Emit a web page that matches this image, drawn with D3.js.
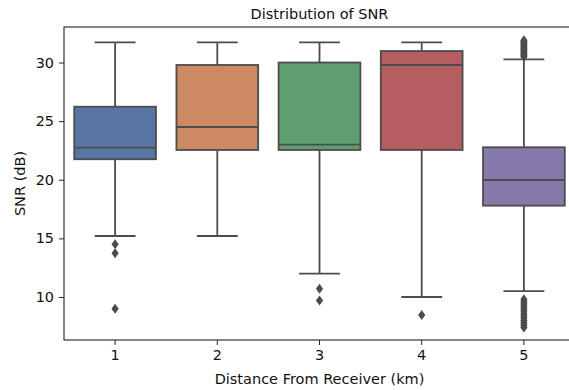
<!DOCTYPE html>
<html>
<head>
<meta charset="utf-8">
<script src="https://cdn.jsdelivr.net/npm/d3@7"></script>
<style>
  body { margin: 0; background: #fff; }
  svg { font-family: "DejaVu Sans", sans-serif; display: block; }
</style>
</head>
<body>
<div id="chart"></div>
<script>
// distances (km)
const categories = ['1', '2', '3', '4', '5'];
// box stats
const whiskLow  = [15.2, 15.2, 12.0, 10.0, 10.5];
const q1        = [21.75, 22.54, 22.54, 22.54, 17.79];
const medians   = [22.74, 24.5, 22.99, 29.79, 19.98];
const q3        = [26.23, 29.79, 30.0, 30.98, 22.77];
const whiskHigh = [31.72, 31.72, 31.72, 31.72, 30.27];
const outliers  = [
  [14.5, 13.73, 8.99],
  [],
  [10.7, 9.7],
  [8.47],
  [30.5, 30.6, 30.7, 30.8, 30.9, 31.0, 31.1, 31.2, 31.3, 31.4, 31.5, 31.6, 31.7, 31.8, 31.9,
   9.8, 9.6, 9.4, 9.2, 9.0, 8.8, 8.6, 8.4, 8.2, 8.0, 7.8, 7.6, 7.4]
];
const yTicks = [10, 15, 20, 25, 30];
const colors = ['#5975a4', '#cc8963', '#5f9e6e', '#b55d60', '#857aab'];

const width = 569, height = 390;
const margin = {top: 27, left: 64, bottom: 50};
const plotW = 511, plotH = height - margin.top - margin.bottom;
const lineColor = '#4c4c4c';

const svg = d3.select('#chart').append('svg')
  .attr('width', width)
  .attr('height', height);

const g = svg.append('g')
  .attr('transform', `translate(${margin.left},${margin.top})`);

let x = d3.scaleBand()
  .domain(categories)
  .range([0, plotW])
  .paddingInner(0)
  .paddingOuter(0);

let y = d3.scaleLinear()
  .domain([6.33, 33.03])
  .range([plotH, 0]);

const bw = x.bandwidth() * 0.8;

// boxes
const boxes = g.selectAll('g.box')
  .data(categories)
  .enter()
  .append('g')
  .attr('class', 'box')
  .attr('transform', d => `translate(${x(d) + x.bandwidth() / 2},0)`);

// whiskers
boxes.append('line')
  .attr('y1', (d, i) => y(whiskLow[i])).attr('y2', (d, i) => y(q1[i]))
  .attr('stroke', lineColor).attr('stroke-width', 1.8);
boxes.append('line')
  .attr('y1', (d, i) => y(q3[i])).attr('y2', (d, i) => y(whiskHigh[i]))
  .attr('stroke', lineColor).attr('stroke-width', 1.8);
// caps
[whiskLow, whiskHigh].forEach(arr => {
  boxes.append('line')
    .attr('x1', -bw / 4).attr('x2', bw / 4)
    .attr('y1', (d, i) => y(arr[i])).attr('y2', (d, i) => y(arr[i]))
    .attr('stroke', lineColor).attr('stroke-width', 1.8);
});

boxes.append('rect')
  .attr('x', -bw / 2)
  .attr('width', bw)
  .attr('y', (d, i) => y(q3[i]))
  .attr('height', (d, i) => y(q1[i]) - y(q3[i]))
  .attr('fill', (d, i) => colors[i])
  .attr('stroke', lineColor)
  .attr('stroke-width', 1.8);

boxes.append('line')
  .attr('x1', -bw / 2).attr('x2', bw / 2)
  .attr('y1', (d, i) => y(medians[i])).attr('y2', (d, i) => y(medians[i]))
  .attr('stroke', lineColor).attr('stroke-width', 1.8);

// fliers (thin diamonds)
boxes.each(function(d, i) {
  d3.select(this).selectAll('path.flier')
    .data(outliers[i])
    .enter()
    .append('path')
    .attr('class', 'flier')
    .attr('d', 'M0,-5L3.6,0L0,5L-3.6,0Z')
    .attr('transform', v => `translate(0,${y(v)})`)
    .attr('fill', lineColor);
});

// axes
const yAxis = g.append('g')
  .call(d3.axisLeft(y).tickValues(yTicks).tickSize(5).tickPadding(5));
const xAxis = g.append('g')
  .attr('transform', `translate(0,${plotH})`)
  .call(d3.axisBottom(x).tickSize(5).tickPadding(5));

[xAxis, yAxis].forEach(a => {
  a.select('.domain').remove();
  a.selectAll('line').attr('stroke', '#222').attr('stroke-width', 1);
  a.selectAll('text').attr('fill', '#111').style('font-size', '14.4px')
    .style('font-family', '"DejaVu Sans", sans-serif');
});

// frame
g.append('rect')
  .attr('width', plotW).attr('height', plotH)
  .attr('fill', 'none').attr('stroke', '#222').attr('stroke-width', 1.1);

// titles
svg.append('text')
  .attr('x', margin.left + plotW / 2).attr('y', 19)
  .attr('text-anchor', 'middle')
  .style('font-size', '14.5px').attr('fill', '#111')
  .text('Distribution of SNR');

svg.append('text')
  .attr('x', margin.left + plotW / 2).attr('y', 384)
  .attr('text-anchor', 'middle')
  .style('font-size', '14.5px').attr('fill', '#111')
  .text('Distance From Receiver (km)');

svg.append('text')
  .attr('transform', `translate(25,${margin.top + plotH / 2}) rotate(-90)`)
  .attr('text-anchor', 'middle')
  .style('font-size', '14.5px').attr('fill', '#111')
  .text('SNR (dB)');
</script>
</body>
</html>
